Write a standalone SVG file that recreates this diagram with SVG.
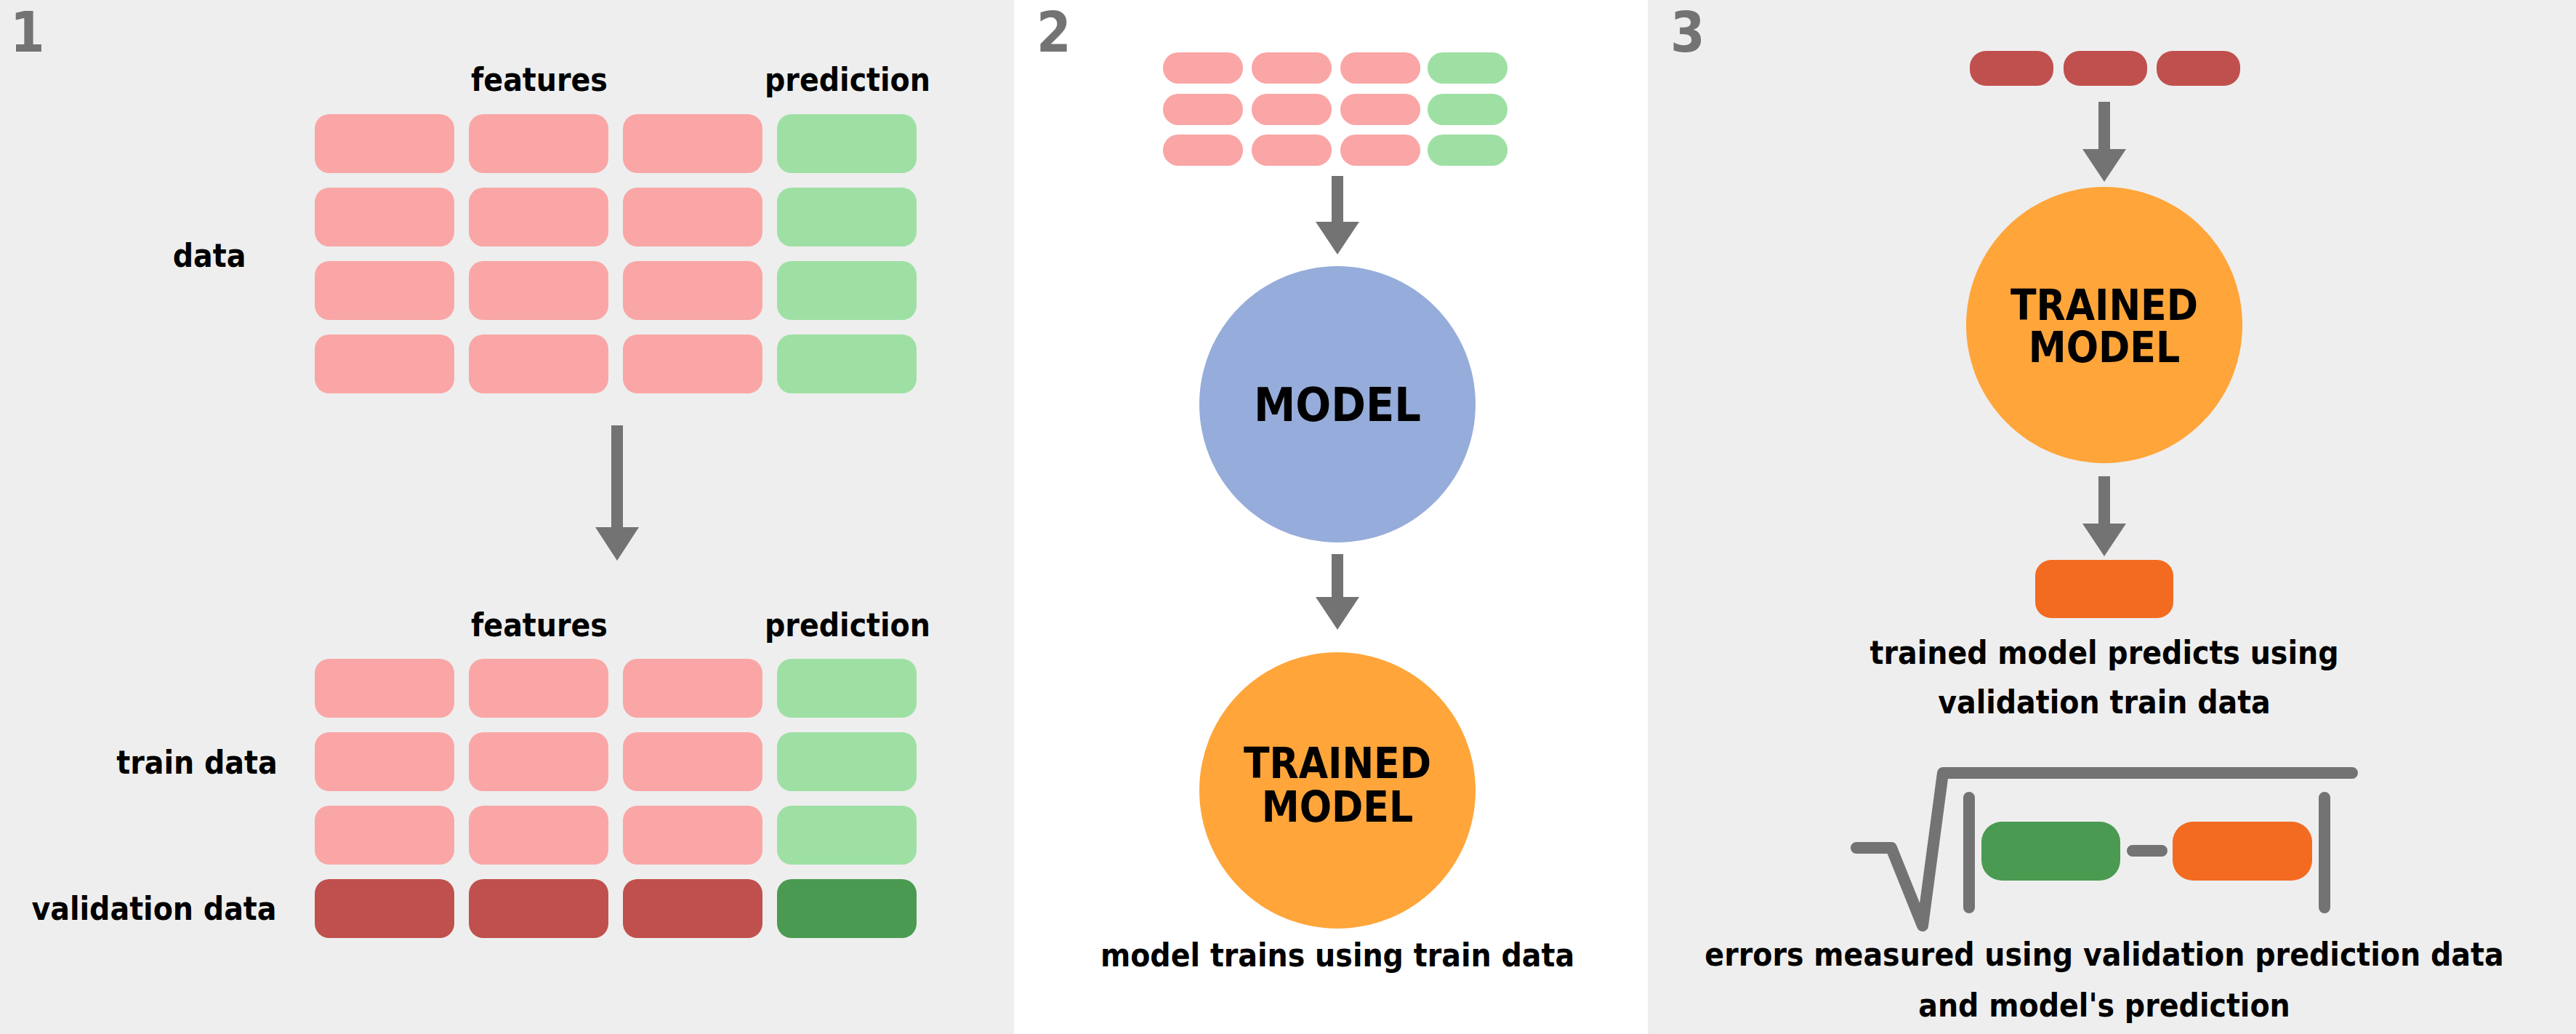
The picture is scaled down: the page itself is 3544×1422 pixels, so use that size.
<svg xmlns="http://www.w3.org/2000/svg" width="3544" height="1422" viewBox="0 0 3544 1422">
<style>
text{font-family:"DejaVu Sans Condensed","DejaVu Sans",sans-serif;font-weight:bold;fill:#000}
.l{font-size:44px;text-anchor:middle}
.num{font-size:76px;fill:#737373;font-weight:bold}
.c{font-size:58px;text-anchor:middle}
.p{fill:#faa6a6}.g{fill:#9ee0a4}.dr{fill:#c0504d}.dg{fill:#4a9a52}.o{fill:#f26b21}
.ar{stroke:#737373;stroke-width:16;fill:none}
.ah{fill:#737373}
.s{stroke:#737373;stroke-width:16;fill:none;stroke-linecap:round;stroke-linejoin:round}
</style>
<rect x="0" y="0" width="1395" height="1422" fill="#eeeeee"/>
<rect x="1395" y="0" width="872" height="1422" fill="#ffffff"/>
<rect x="2267" y="0" width="1277" height="1422" fill="#eeeeee"/>
<text class="num" x="14" y="71">1</text>
<text class="num" x="1426" y="71">2</text>
<text class="num" x="2298" y="71">3</text>
<g id="p1-top">
<text class="l" x="742" y="125">features</text>
<text class="l" x="1166" y="125">prediction</text>
<text class="l" x="288" y="367">data</text>
<g>
<rect class="p" x="433" y="157" width="192" height="81" rx="20"/><rect class="p" x="645" y="157" width="192" height="81" rx="20"/><rect class="p" x="857" y="157" width="192" height="81" rx="20"/><rect class="g" x="1069" y="157" width="192" height="81" rx="20"/>
<rect class="p" x="433" y="258" width="192" height="81" rx="20"/><rect class="p" x="645" y="258" width="192" height="81" rx="20"/><rect class="p" x="857" y="258" width="192" height="81" rx="20"/><rect class="g" x="1069" y="258" width="192" height="81" rx="20"/>
<rect class="p" x="433" y="359" width="192" height="81" rx="20"/><rect class="p" x="645" y="359" width="192" height="81" rx="20"/><rect class="p" x="857" y="359" width="192" height="81" rx="20"/><rect class="g" x="1069" y="359" width="192" height="81" rx="20"/>
<rect class="p" x="433" y="460" width="192" height="81" rx="20"/><rect class="p" x="645" y="460" width="192" height="81" rx="20"/><rect class="p" x="857" y="460" width="192" height="81" rx="20"/><rect class="g" x="1069" y="460" width="192" height="81" rx="20"/>
</g>
</g>
<g id="p1-bottom">
<text class="l" x="742" y="875">features</text>
<text class="l" x="1166" y="875">prediction</text>
<text class="l" x="271" y="1064">train data</text>
<text class="l" x="212" y="1265">validation data</text>
<rect class="p" x="433" y="906" width="192" height="81" rx="20"/><rect class="p" x="645" y="906" width="192" height="81" rx="20"/><rect class="p" x="857" y="906" width="192" height="81" rx="20"/><rect class="g" x="1069" y="906" width="192" height="81" rx="20"/>
<rect class="p" x="433" y="1007" width="192" height="81" rx="20"/><rect class="p" x="645" y="1007" width="192" height="81" rx="20"/><rect class="p" x="857" y="1007" width="192" height="81" rx="20"/><rect class="g" x="1069" y="1007" width="192" height="81" rx="20"/>
<rect class="p" x="433" y="1108" width="192" height="81" rx="20"/><rect class="p" x="645" y="1108" width="192" height="81" rx="20"/><rect class="p" x="857" y="1108" width="192" height="81" rx="20"/><rect class="g" x="1069" y="1108" width="192" height="81" rx="20"/>
<rect class="dr" x="433" y="1209" width="192" height="81" rx="20"/><rect class="dr" x="645" y="1209" width="192" height="81" rx="20"/><rect class="dr" x="857" y="1209" width="192" height="81" rx="20"/><rect class="dg" x="1069" y="1209" width="192" height="81" rx="20"/>
</g>
<g id="p2-data">
<rect class="p" x="1600" y="72" width="110" height="43" rx="21"/><rect class="p" x="1722" y="72" width="110" height="43" rx="21"/><rect class="p" x="1844" y="72" width="110" height="43" rx="21"/><rect class="g" x="1964" y="72" width="110" height="43" rx="21"/>
<rect class="p" x="1600" y="129" width="110" height="43" rx="21"/><rect class="p" x="1722" y="129" width="110" height="43" rx="21"/><rect class="p" x="1844" y="129" width="110" height="43" rx="21"/><rect class="g" x="1964" y="129" width="110" height="43" rx="21"/>
<rect class="p" x="1600" y="185" width="110" height="43" rx="21"/><rect class="p" x="1722" y="185" width="110" height="43" rx="21"/><rect class="p" x="1844" y="185" width="110" height="43" rx="21"/><rect class="g" x="1964" y="185" width="110" height="43" rx="21"/>
</g>
<g id="model"><circle cx="1840" cy="556" r="190" fill="#96acda"/><text class="c" x="1840" y="579" style="font-size:64px">MODEL</text></g>
<g id="trained-model"><circle cx="1840" cy="1087" r="190" fill="#ffa53a"/><text class="c" x="1840" y="1070">TRAINED</text><text class="c" x="1840" y="1130">MODEL</text></g>
<text class="l" x="1840" y="1329">model trains using train data</text>
<g id="p3-data"><rect class="dr" x="2710" y="70" width="115" height="48" rx="22"/><rect class="dr" x="2839" y="70" width="115" height="48" rx="22"/><rect class="dr" x="2967" y="70" width="115" height="48" rx="22"/></g>
<g id="trained-model-3"><circle cx="2895" cy="447" r="190" fill="#ffa53a"/><text class="c" x="2895" y="440">TRAINED</text><text class="c" x="2895" y="498">MODEL</text></g>
<g id="prediction"><rect class="o" x="2800" y="770" width="190" height="80" rx="22"/></g>
<text class="l" x="2895" y="913">trained model predicts using</text>
<text class="l" x="2895" y="981">validation train data</text>
<g id="formula">
<path class="s" d="M2554 1166 H2602 L2645 1273 L2673 1063 H3236"/>
<path class="s" d="M2709 1097 V1248 M3198 1097 V1248 M2934 1170 H2974"/>
<rect class="dg" x="2726" y="1130" width="191" height="81" rx="28"/>
<rect class="o" x="2989" y="1130" width="192" height="81" rx="28"/>
</g>
<text class="l" x="2895" y="1328">errors measured using validation prediction data</text>
<text class="l" x="2895" y="1398">and model's prediction</text>
<g id="connectors">
<path class="ar" d="M849 585 V730"/><path class="ah" d="M819 725 H879 L849 771 Z"/>
<path class="ar" d="M1840 242 V310"/><path class="ah" d="M1810 305 H1870 L1840 350 Z"/>
<path class="ar" d="M1840 762 V826"/><path class="ah" d="M1810 821 H1870 L1840 866 Z"/>
<path class="ar" d="M2895 140 V210"/><path class="ah" d="M2865 205 H2925 L2895 250 Z"/>
<path class="ar" d="M2895 655 V725"/><path class="ah" d="M2865 720 H2925 L2895 765 Z"/>
</g>
</svg>
